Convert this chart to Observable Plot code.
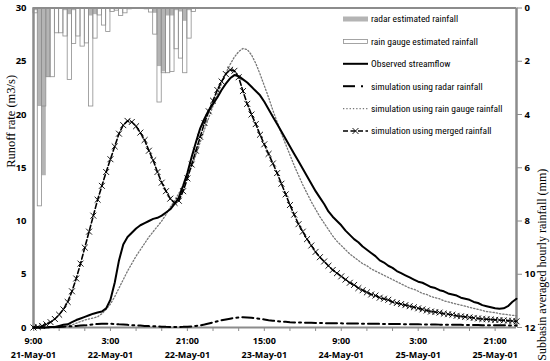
<!DOCTYPE html>
<html><head><meta charset="utf-8">
<script src="https://cdn.jsdelivr.net/npm/d3@7"></script>
<script src="https://cdn.jsdelivr.net/npm/@observablehq/plot@0.6"></script>
<style>
html,body{margin:0;padding:0;background:#fff;}
#wrap{position:relative;width:550px;height:361px;}
#legend{position:absolute;left:0;top:0;pointer-events:none;}
</style></head><body><div id="wrap"></div>
<script>
// hourly series, hour 0 = 21-May-01 9:00
const observed=[0,0,0,0,0.05,0.05,0.15,0.25,0.3,0.5,
0.7,0.85,1.0,1.15,1.3,1.4,1.5,1.8,2.6,4.2,
6.3,7.8,8.5,8.9,9.3,9.6,9.8,10.0,10.2,10.3,
10.5,10.8,11.1,11.6,12.2,13.3,14.5,16.0,17.4,18.7,
19.6,20.4,21.0,21.6,22.3,22.9,23.4,23.7,23.6,23.3,
23.0,22.6,22.2,21.8,21.2,20.5,19.8,19.1,18.4,17.7,
17.0,16.3,15.6,14.9,14.2,13.5,12.8,12.2,11.6,10.9,
10.4,10.0,9.6,9.1,8.7,8.3,8.0,7.6,7.3,7.0,
6.7,6.3,6.1,5.8,5.6,5.3,5.1,4.9,4.7,4.5,
4.3,4.2,4.0,3.8,3.7,3.5,3.4,3.2,3.1,3.0,
2.8,2.7,2.6,2.4,2.3,2.1,2.0,1.9,1.8,1.75,
1.8,2.0,2.4,2.7];
const simRadar=[0,0,0,0,0.05,0.05,0.05,0.08,0.1,0.12,
0.15,0.18,0.2,0.25,0.3,0.33,0.35,0.35,0.35,0.33,
0.3,0.28,0.25,0.22,0.2,0.18,0.15,0.13,0.12,0.1,
0.08,0.06,0.05,0.05,0.05,0.06,0.08,0.1,0.15,0.2,
0.28,0.38,0.48,0.58,0.68,0.76,0.83,0.9,0.94,0.96,
0.95,0.92,0.87,0.81,0.75,0.69,0.64,0.6,0.56,0.53,
0.5,0.48,0.47,0.46,0.45,0.44,0.43,0.42,0.41,0.4,
0.4,0.39,0.39,0.38,0.38,0.37,0.37,0.36,0.36,0.35,
0.35,0.34,0.34,0.33,0.33,0.32,0.32,0.31,0.31,0.3,
0.3,0.29,0.29,0.28,0.28,0.27,0.27,0.26,0.26,0.25,
0.25,0.24,0.24,0.23,0.23,0.22,0.22,0.21,0.21,0.2,
0.2,0.2,0.19,0.19];
const simGauge=[0,0,0,0,0,0,0.05,0.08,0.15,0.25,
0.4,0.55,0.7,0.8,0.9,1.0,1.3,1.7,2.2,2.9,
3.7,4.5,5.3,6.0,6.7,7.3,7.9,8.5,9.0,9.5,
10.0,10.6,11.3,11.9,12.6,13.3,14.1,15.1,16.2,17.4,
18.6,19.7,20.8,21.9,22.9,23.9,24.7,25.4,25.9,26.2,
26.1,25.6,24.8,23.8,22.7,21.6,20.4,19.3,18.2,17.2,
16.2,15.2,14.3,13.4,12.6,11.8,11.1,10.4,9.8,9.2,
8.6,8.1,7.7,7.3,6.9,6.6,6.3,6.0,5.8,5.5,
5.3,5.1,4.9,4.7,4.5,4.3,4.1,3.9,3.7,3.6,
3.4,3.2,3.1,2.9,2.8,2.7,2.5,2.4,2.3,2.2,
2.1,2.0,1.9,1.8,1.7,1.6,1.5,1.45,1.4,1.3,
1.25,1.2,1.15,1.1];
const simMerged=[0,0.05,0.15,0.3,0.5,0.8,1.2,1.7,2.4,3.4,
4.6,6.0,7.5,9.0,10.5,12.0,13.3,14.6,15.8,17.0,
18.2,19.0,19.4,19.3,18.9,18.3,17.6,16.6,15.7,14.6,
13.6,12.8,12.1,11.7,11.9,12.8,14.0,15.3,16.6,17.9,
19.2,20.3,21.3,22.3,23.1,23.8,24.2,24.1,23.5,22.2,
21.0,20.0,19.1,18.1,17.2,16.3,15.4,14.5,13.5,12.5,
11.5,10.6,9.7,9.0,8.3,7.7,7.1,6.6,6.2,5.8,
5.4,5.1,4.8,4.5,4.2,4.0,3.7,3.5,3.3,3.1,
3.0,2.8,2.7,2.6,2.4,2.3,2.2,2.1,2.0,1.9,
1.8,1.7,1.6,1.5,1.45,1.4,1.3,1.25,1.2,1.1,
1.05,1.0,0.95,0.9,0.85,0.8,0.78,0.75,0.72,0.7,
0.67,0.64,0.61,0.58];
// hourly rainfall (mm), hour 0 = 21-May-01 9:00
const rainGauge=[0.2,7.45,3.7,2.6,2.6,0.95,0.95,1.07,2.7,1.35,
1.07,1.45,1.33,3.7,1.15,0.28,0.66,0.9,0.15,0.1,
0.3,0.2,0.05,0.02,0.02,0.02,0.05,0.17,1.0,3.55,
2.45,2.45,2.4,1.55,1.9,2.45,1.15,0.15];
const rainRadar=[0.1,3.7,6.3,2.6,0.05,0.05,0.05,0.1,0.25,0.1,
0.05,0.05,0.05,0.3,0.25,0.05,0.05,0.05,0.03,0.03,
0.05,0.03,0.02,0,0,0,0.02,0.05,0.2,2.2,
2.4,0.3,0.3,0.1,0.15,0.5,0.1,0.05];
const leftTicks=[0,5,10,15,20,25,30];
const rightTicks=[0,2,4,6,8,10,12];
const xLabelHours=[0,18,36,54,72,90,108];
const timeLabels=["9:00","3:00","21:00","15:00","9:00","3:00","21:00"];
const dateLabels=["21-May-01","22-May-01","22-May-01","23-May-01","24-May-01","25-May-01","25-May-01"];
const legendLabels=["radar estimated rainfall","rain gauge estimated rainfall","Observed streamflow","simulation using radar rainfall","simulation using rain gauge rainfall","simulation using merged rainfall"];

const RMAX=12, QMAX=30, HMAX=113;
const toQ = mm => QMAX - mm*QMAX/RMAX;
const series = observed.map((v,i)=>({h:i,obs:v,radar:simRadar[i],gauge:simGauge[i],merged:simMerged[i]}));
const rain = rainGauge.map((g,i)=>({h:i,gauge:g,radar:rainRadar[i]}));
const axisGray="#8c8c8c";

const chart = Plot.plot({
  width:550, height:361,
  marginLeft:33, marginRight:34, marginTop:7.5, marginBottom:34,
  style:{fontFamily:"'Open Sans', sans-serif", fontSize:"9px", color:"#000", background:"#fff", overflow:"visible"},
  x:{type:"linear", domain:[0,HMAX], axis:null, label:null},
  y:{type:"linear", domain:[0,QMAX], axis:null, label:null},
  marks:[
    Plot.rect(rain,{x1:"h", x2:d=>d.h+1, y1:()=>QMAX, y2:d=>toQ(d.gauge), fill:"#fff"}),
    Plot.rect(rain,{x1:"h", x2:d=>d.h+1, y1:()=>QMAX, y2:d=>toQ(d.radar), fill:"#b4b4b4"}),
    Plot.rect(rain,{x1:"h", x2:d=>d.h+1, y1:()=>QMAX, y2:d=>toQ(d.gauge), fill:"none", stroke:"#8e8e8e", strokeWidth:0.8}),
    Plot.ruleY([QMAX],{stroke:axisGray, strokeWidth:2}),
    Plot.ruleY([0],{stroke:axisGray, strokeWidth:2}),
    Plot.ruleX([0],{stroke:axisGray, strokeWidth:2.5}),
    Plot.ruleX([HMAX],{stroke:axisGray, strokeWidth:2.5}),
    Plot.axisX(d3.range(0,HMAX+1,6),{anchor:"bottom", tickSize:4, stroke:axisGray, tickFormat:()=>"", label:null}),
    Plot.axisY(leftTicks,{anchor:"left", tickSize:0, tickPadding:7, fontWeight:"bold", fontSize:9.5, label:null}),
    Plot.axisY(rightTicks.map(toQ),{anchor:"right", tickSize:5, stroke:axisGray, tickPadding:3, fontWeight:"bold", fontSize:9.5, tickFormat:v=>String(Math.round((QMAX-v)*RMAX/QMAX)), label:null}),
    Plot.axisX(xLabelHours,{anchor:"bottom", tickSize:0, tickPadding:6, fontWeight:"bold", fontSize:9, lineHeight:1.6, tickFormat:(d,i)=>timeLabels[i]+"\n"+dateLabels[i], label:null}),
    Plot.text(["Runoff rate (m3/s)"],{frameAnchor:"left", dx:-23, rotate:-90, fontFamily:"'Liberation Serif', serif", fontSize:12.5}),
    Plot.text(["Subbasin averaged hourly rainfall (mm)"],{frameAnchor:"right", dx:26, dy:1, rotate:-90, fontFamily:"'Liberation Serif', serif", fontSize:12}),
    Plot.line(series,{x:"h", y:"gauge", stroke:"#777", strokeWidth:1.3, strokeDasharray:"1.3,2"}),
    Plot.line(series,{x:"h", y:"radar", stroke:"#000", strokeWidth:2, strokeDasharray:"11,4,2,4"}),
    Plot.line(series,{x:"h", y:"obs", stroke:"#000", strokeWidth:2}),
    Plot.line(series,{x:"h", y:"merged", stroke:"#000", strokeWidth:1.6, strokeDasharray:"5,2.5"}),
    Plot.dot(series,{x:"h", y:"merged", symbol:"times", r:2.8, stroke:"#000", strokeWidth:0.9})
  ]
});
const wrap=document.getElementById("wrap");
wrap.appendChild(chart);

// legend overlay
const lg=d3.select(wrap).append("svg").attr("id","legend").attr("width",550).attr("height",361);
const x0=343, x1=368, tx=371;
legendLabels.forEach((lab,i)=>{
  const y=19+i*22.4;
  const g=lg.append("g");
  if(i===0) g.append("rect").attr("x",x0).attr("y",y-2.5).attr("width",x1-x0).attr("height",5).attr("fill","#b4b4b4");
  if(i===1) g.append("rect").attr("x",x0+0.5).attr("y",y-2).attr("width",x1-x0-1).attr("height",4).attr("fill","#fff").attr("stroke","#8e8e8e").attr("stroke-width",0.8);
  if(i===2) g.append("line").attr("x1",x0).attr("x2",x1).attr("y1",y).attr("y2",y).attr("stroke","#000").attr("stroke-width",2);
  if(i===3){ g.append("line").attr("x1",x0).attr("x2",x0+12).attr("y1",y).attr("y2",y).attr("stroke","#000").attr("stroke-width",2);
             g.append("line").attr("x1",x0+18).attr("x2",x0+20).attr("y1",y).attr("y2",y).attr("stroke","#000").attr("stroke-width",2);}
  if(i===4) g.append("line").attr("x1",x0).attr("x2",x1).attr("y1",y).attr("y2",y).attr("stroke","#777").attr("stroke-width",1.3).attr("stroke-dasharray","1.3,2");
  if(i===5){ g.append("line").attr("x1",x0).attr("x2",x1).attr("y1",y).attr("y2",y).attr("stroke","#000").attr("stroke-width",1.6).attr("stroke-dasharray","5,2.5");
             g.append("path").attr("d",d3.symbol(d3.symbolTimes, 25)()).attr("transform",`translate(${(x0+x1)/2},${y})`).attr("stroke","#000").attr("fill","none").attr("stroke-width",0.9);}
  g.append("text").attr("x",tx).attr("y",y).attr("dy","0.35em").attr("font-family","'Liberation Sans Narrow','Roboto Condensed','Open Sans',sans-serif").attr("font-size",9.5).text(lab);
});
</script></body></html>
